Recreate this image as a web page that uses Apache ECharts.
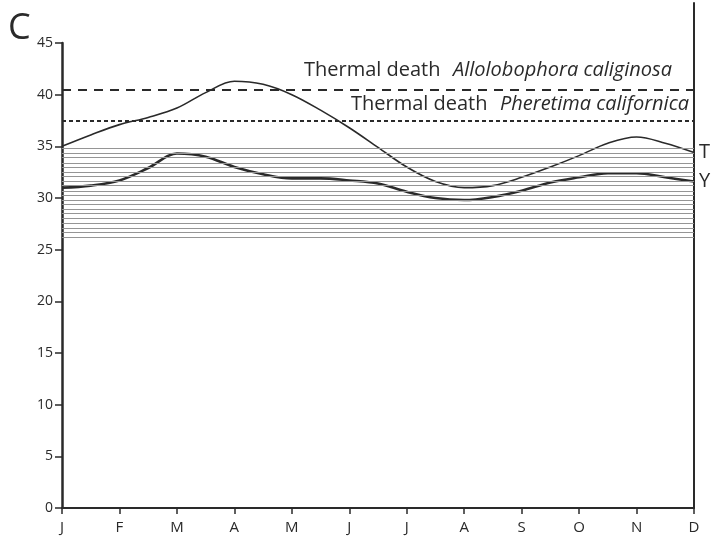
<!DOCTYPE html>
<html>
<head>
  <meta charset="UTF-8">
  <title>Thermal death</title>
  <style>
    body { margin: 0; background: #fff; }
    #chart { width: 712px; height: 536px; }
  </style>
  <script src="https://cdn.jsdelivr.net/npm/echarts@6/dist/echarts.min.js"></script>
</head>
<body>
<div id="chart"></div>
<script>
  const months = ['J', 'F', 'M', 'A', 'M', 'J', 'J', 'A', 'S', 'O', 'N', 'D'];
  // readings at each month and half month (0 = J ... 11 = D)
  const monthPos = [0, 0.5, 1, 1.5, 2, 2.5, 3, 3.5, 4, 4.5, 5, 5.5,
                    6, 6.5, 7, 7.5, 8, 8.5, 9, 9.5, 10, 10.5, 11];
  const tValues = [35.0, 36.1, 37.1, 37.8, 38.7, 40.2, 41.3, 41.0, 40.0, 38.5, 36.8, 34.9,
                   33.0, 31.6, 31.0, 31.2, 32.0, 33.0, 34.1, 35.3, 35.9, 35.3, 34.4];
  const yValues = [31.0, 31.2, 31.7, 32.9, 34.3, 34.0, 33.0, 32.3, 31.9, 31.9, 31.7, 31.4,
                   30.6, 30.0, 29.8, 30.1, 30.7, 31.5, 32.0, 32.4, 32.4, 32.0, 31.6];
  const deathAllolobophora = 40.5;
  const deathPheretima = 37.5;
  const hatchLevels = [34.8, 34.3, 33.9, 33.4, 33.0, 32.5, 32.1, 31.6, 31.2, 30.7,
                       30.3, 29.8, 29.4, 28.9, 28.5, 28.0, 27.6, 27.1, 26.7, 26.2];

  const font = '"Open Sans", Lato, sans-serif';
  const ink = '#2a2a2a';

  const chart = echarts.init(document.getElementById('chart'));

  const pair = vals => monthPos.map((x, i) => [x, vals[i]]);

  const deathRich = {
    a: { fontFamily: font, fontSize: 20, color: ink },
    b: { fontFamily: font, fontSize: 20, color: ink, fontStyle: 'italic' }
  };

  chart.setOption({
    animation: false,
    textStyle: { fontFamily: font, color: ink },
    title: {
      text: 'C', left: 3, top: 6,
      textStyle: { fontFamily: font, fontSize: 36, fontWeight: 'normal', color: ink }
    },
    grid: [
      { left: 62, right: 18, top: 43, bottom: 28 },
      { left: 62, right: 18, top: 3, bottom: 28 }   // right-hand frame line reaches the top
    ],
    xAxis: [
      {
        type: 'value', min: 0, max: 11, interval: 1, gridIndex: 0,
        axisLine: { lineStyle: { color: ink, width: 2 } },
        axisTick: { length: 6, lineStyle: { color: ink, width: 1.5 } },
        axisLabel: { color: ink, fontSize: 15, margin: 12, formatter: v => months[v] },
        splitLine: { show: false }
      },
      { type: 'value', gridIndex: 1, show: false }
    ],
    yAxis: [
      {
        type: 'value', min: 0, max: 45, interval: 5, gridIndex: 0,
        axisLine: { show: true, lineStyle: { color: ink, width: 2.5 } },
        axisTick: { show: true, length: 7, lineStyle: { color: ink, width: 1.5 } },
        axisLabel: { color: ink, fontSize: 14, margin: 9 },
        splitLine: { show: false }
      },
      {
        type: 'value', gridIndex: 1, position: 'right', min: 0, max: 1,
        axisLine: { show: true, onZero: false, lineStyle: { color: ink, width: 2 } },
        axisTick: { show: false }, axisLabel: { show: false }, splitLine: { show: false }
      }
    ],
    series: [
      {
        name: 'hatch', type: 'line', data: [], xAxisIndex: 0, yAxisIndex: 0,
        markLine: {
          silent: true, symbol: 'none', label: { show: false },
          lineStyle: { color: '#959595', width: 1, type: 'solid' },
          data: hatchLevels.map(v => ({ yAxis: v }))
        }
      },
      {
        name: 'death', type: 'line', data: [], xAxisIndex: 0, yAxisIndex: 0,
        markLine: {
          silent: true, symbol: 'none',
          data: [
            {
              yAxis: deathAllolobophora,
              lineStyle: { color: ink, width: 2, type: [9, 7] },
              label: {
                position: 'insideEndTop', distance: [22, 9],
                formatter: '{a|Thermal death}    {b|Allolobophora caliginosa}',
                rich: deathRich
              }
            },
            {
              yAxis: deathPheretima,
              lineStyle: { color: ink, width: 1.8, type: [4, 3] },
              label: {
                position: 'insideEndTop', distance: [5, 6],
                formatter: '{a|Thermal death}    {b|Pheretima californica}',
                rich: deathRich
              }
            }
          ]
        }
      },
      {
        name: 'T', type: 'line', data: pair(tValues), smooth: 0.35, symbol: 'none',
        lineStyle: { color: ink, width: 1.6 },
        endLabel: { show: true, formatter: 'T', fontSize: 20, color: ink, distance: 5 }
      },
      {
        name: 'Y', type: 'line', data: pair(yValues), smooth: 0.35, symbol: 'none',
        lineStyle: { color: ink, width: 2.6 },
        endLabel: { show: true, formatter: 'Y', fontSize: 20, color: ink, distance: 5 }
      },
      { name: 'frame', type: 'line', data: [], xAxisIndex: 1, yAxisIndex: 1 }
    ]
  });
</script>
</body>
</html>
